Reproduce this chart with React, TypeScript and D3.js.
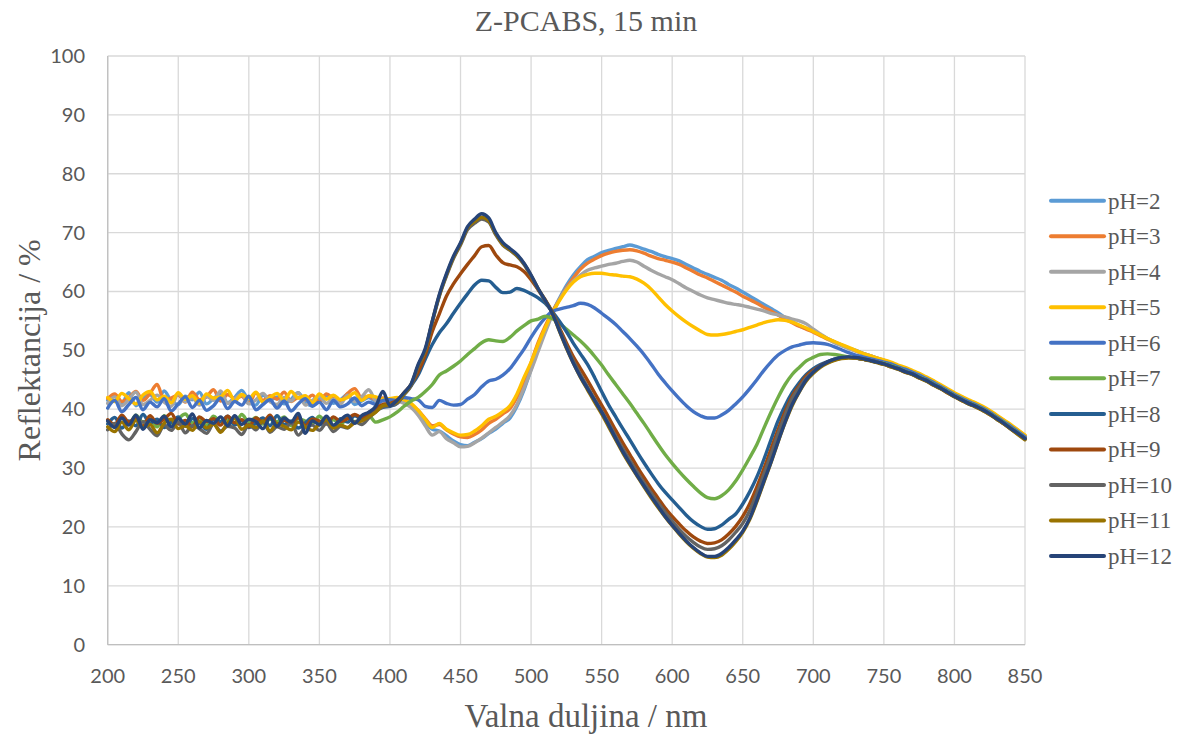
import React from 'react';
import * as d3 from 'd3';

// wavelength grid: 200..850 nm, 5 nm step
const WL_START = 200;
const WL_STEP = 5;

const X_TICKS = [200, 250, 300, 350, 400, 450, 500, 550, 600, 650, 700, 750, 800, 850];
const Y_TICKS = [0, 10, 20, 30, 40, 50, 60, 70, 80, 90, 100];

const SERIES_NAMES = ['pH=2', 'pH=3', 'pH=4', 'pH=5', 'pH=6', 'pH=7', 'pH=8', 'pH=9', 'pH=10', 'pH=11', 'pH=12'];
const SERIES_COLORS = ['#5B9BD5', '#ED7D31', '#A5A5A5', '#FFC000', '#4472C4', '#70AD47', '#255E91', '#9E480E', '#636363', '#997300', '#264478'];

const PH2 = [
  41.5, 42.3, 41.0, 42.8, 40.6, 41.9, 42.5, 41.2, 43.1, 41.4,
  40.8, 42.2, 41.6, 42.9, 40.9, 41.8, 42.6, 41.1, 42.0, 43.2,
  41.3, 40.7, 42.4, 41.5, 42.1, 40.9, 41.7, 42.8, 41.2, 40.6,
  41.9, 42.3, 41.0, 41.6, 42.5, 40.8, 41.4, 42.0, 41.3, 41.6,
  41.5, 41.8, 41.5, 40.5, 39.2, 37.6, 36.6, 36.3, 35.5, 34.6,
  34.0, 33.8, 34.4, 35.0, 35.9, 36.6, 37.6, 38.5, 40.5, 43.3,
  46.8, 50.5, 53.6, 56.4, 58.8, 61.0, 62.8, 64.2, 65.4, 66.0,
  66.6, 67.0, 67.3, 67.6, 67.9, 67.6, 67.2, 66.8, 66.3, 65.9,
  65.6, 65.2, 64.6, 64.0, 63.4, 62.9, 62.4, 61.9, 61.2, 60.6,
  59.9, 59.2, 58.5, 57.8, 57.1, 56.4, 55.6, 54.9, 54.2, 53.7,
  53.2, 52.6, 52.0, 51.4, 50.9, 50.4, 50.0, 49.5, 49.1, 48.7,
  48.3, 47.8, 47.4, 46.9, 46.4, 45.9, 45.3, 44.7, 44.0, 43.3,
  42.6, 42.0, 41.4, 40.9, 40.3, 39.6, 38.8, 38.0, 37.2, 36.3,
  35.4,
];
const PH3 = [
  41.8, 42.6, 41.3, 42.0, 43.0, 41.5, 42.7, 44.2, 41.5, 41.9,
  42.4, 41.2, 42.9, 41.6, 42.1, 43.3, 41.4, 42.5, 41.8, 42.2,
  41.0, 42.8, 41.5, 42.3, 41.7, 42.9, 41.3, 42.0, 41.6, 42.4,
  41.2, 42.6, 41.8, 41.4, 42.7, 43.5, 41.9, 42.2, 41.6, 41.9,
  41.6, 41.9, 41.7, 40.8, 39.8, 38.4, 37.2, 37.4, 36.5, 35.8,
  35.3, 35.2, 35.7, 36.5, 37.6, 38.3, 39.2, 40.1, 42.0, 44.4,
  47.9, 51.3, 54.1, 56.5, 58.6, 60.6, 62.3, 63.8, 64.8, 65.5,
  66.1, 66.5, 66.8, 67.0, 67.1, 66.9, 66.5, 66.0, 65.6, 65.3,
  65.0, 64.6, 64.0, 63.4, 62.8, 62.3, 61.7, 61.1, 60.5, 59.9,
  59.2, 58.6, 58.0, 57.3, 56.7, 56.0, 55.3, 54.7, 54.1, 53.6,
  53.1, 52.5, 51.9, 51.4, 50.9, 50.4, 49.9, 49.5, 49.1, 48.7,
  48.3, 47.9, 47.3, 47.0, 46.4, 46.0, 45.3, 44.8, 44.0, 43.4,
  42.6, 42.1, 41.4, 41.0, 40.3, 39.7, 38.8, 38.1, 37.2, 36.4,
  35.5,
];
const PH4 = [
  41.0, 42.1, 40.6, 41.7, 42.9, 40.8, 41.5, 42.4, 41.2, 40.5,
  42.6, 41.3, 41.9, 40.7, 42.2, 41.5, 43.1, 41.0, 41.8, 42.5,
  40.9, 41.6, 42.7, 41.3, 40.8, 42.0, 41.4, 42.8, 40.7, 41.5,
  42.2, 41.0, 41.7, 40.9, 42.4, 41.3, 42.1, 43.3, 41.4, 41.2,
  41.0, 41.4, 41.0, 40.3, 39.0, 37.2, 35.6, 36.2, 35.0, 34.3,
  33.6, 33.7, 34.3, 35.1, 36.0, 36.9, 37.8, 38.9, 40.8, 43.6,
  46.6, 49.8, 53.0, 56.0, 58.6, 60.4, 61.8, 62.8, 63.6, 64.0,
  64.3, 64.6, 64.8, 65.1, 65.3, 65.0, 64.3, 63.6, 63.0, 62.5,
  62.0, 61.3, 60.6, 60.0, 59.4, 58.9, 58.6, 58.3, 58.0, 57.8,
  57.6, 57.3, 57.0, 56.7, 56.3, 56.0, 55.7, 55.3, 55.0, 54.5,
  53.6, 52.8, 52.0, 51.3, 50.8, 50.3, 49.9, 49.5, 49.1, 48.7,
  48.2, 47.8, 47.2, 46.9, 46.3, 45.9, 45.2, 44.7, 43.9, 43.3,
  42.5, 42.0, 41.3, 40.9, 40.2, 39.6, 38.7, 38.0, 37.1, 36.3,
  35.3,
];
const PH5 = [
  42.0, 41.3, 42.7, 41.8, 40.9, 42.4, 43.0, 41.6, 42.2, 41.1,
  42.8, 41.7, 42.3, 41.0, 42.6, 41.9, 42.1, 43.2, 41.4, 42.5,
  41.8, 42.9, 41.2, 42.0, 42.7, 41.5, 43.0, 41.9, 42.3, 41.1,
  42.6, 41.7, 42.4, 41.6, 42.0, 42.8, 41.5, 42.3, 42.1, 41.7,
  41.8, 42.0, 41.6, 41.0, 39.8, 38.3, 36.9, 37.6, 36.6, 36.0,
  35.6, 35.7, 36.3, 37.2, 38.3, 38.8, 39.6, 40.6, 42.6, 45.4,
  48.0, 51.0, 53.8, 56.3, 58.4, 60.2, 61.6, 62.5, 62.9, 63.1,
  63.1, 62.9, 62.8, 62.6, 62.5, 62.1, 61.4, 60.4, 59.1, 57.8,
  56.7, 55.7, 54.8, 54.0, 53.3, 52.7, 52.6, 52.7, 52.9, 53.2,
  53.5, 53.9, 54.3, 54.7, 55.0, 55.2, 55.1, 54.8, 54.3, 53.8,
  53.2, 52.6, 52.0, 51.5, 51.0, 50.5, 50.0, 49.5, 49.1, 48.7,
  48.4, 48.0, 47.5, 47.1, 46.6, 46.1, 45.5, 44.9, 44.2, 43.5,
  42.8, 42.2, 41.6, 41.1, 40.5, 39.8, 39.0, 38.2, 37.4, 36.5,
  35.6,
];
const PH6 = [
  40.2, 41.5, 39.6, 40.8, 42.0, 39.9, 41.2, 40.4, 41.8, 39.7,
  40.9, 42.1, 40.3, 41.5, 39.8, 40.6, 41.9, 40.1, 41.3, 40.7,
  42.2, 39.9, 40.8, 41.6, 40.2, 41.4, 39.7, 40.9, 41.8, 40.5,
  41.2, 39.9, 41.5, 40.4, 40.9, 41.9, 40.6, 41.2, 40.8, 41.5,
  41.6, 41.5, 42.0, 41.8, 41.6, 40.5, 40.3, 41.5, 41.0, 40.7,
  40.8, 41.7, 42.5, 43.8, 44.8, 45.1, 45.8, 46.9, 48.5, 50.2,
  52.2, 54.0, 55.5, 56.6, 57.0, 57.3, 57.6, 58.0, 57.8, 57.2,
  56.3, 55.4, 54.4, 53.2, 52.0, 50.7, 49.3, 47.7, 46.0, 44.5,
  43.1, 41.8, 40.6, 39.6, 38.9, 38.5, 38.5, 39.0, 39.8, 40.9,
  42.1, 43.5, 45.0, 46.6, 48.0, 49.2, 50.0, 50.6, 50.9, 51.2,
  51.3, 51.2, 51.0, 50.6, 50.1, 49.6, 49.2, 48.9, 48.6, 48.3,
  48.0, 47.7, 47.2, 46.8, 46.3, 45.8, 45.2, 44.6, 43.9, 43.2,
  42.5, 41.9, 41.3, 40.8, 40.2, 39.5, 38.7, 37.9, 37.1, 36.2,
  35.3,
];
const PH7 = [
  38.0, 37.2, 38.6, 37.5, 39.0, 37.8, 38.3, 37.0, 38.9, 37.6,
  38.4, 39.2, 37.7, 38.5, 37.3, 38.8, 37.9, 38.2, 37.4, 39.1,
  37.8, 38.6, 37.5, 38.3, 37.9, 38.7, 37.2, 38.4, 38.0, 37.6,
  38.8, 37.7, 38.2, 37.4, 38.6, 37.9, 38.3, 38.9, 37.8, 38.2,
  38.7, 39.5, 40.5, 41.4, 42.0, 43.0, 44.2, 45.8, 46.5, 47.3,
  48.2, 49.3, 50.3, 51.3, 51.8, 51.6, 51.5, 52.2, 53.3, 54.2,
  55.0, 55.3, 55.8, 55.4, 54.6, 53.6, 52.6, 51.6, 50.4, 49.0,
  47.5, 45.8, 44.2, 42.6, 41.0, 39.3, 37.6, 35.8, 34.0, 32.3,
  30.8, 29.4, 28.1, 26.9, 25.8, 25.0, 24.8, 25.3, 26.3, 27.8,
  29.7, 31.8, 34.0, 36.8, 39.5, 42.0, 44.2, 45.9, 47.1, 48.2,
  48.8, 49.3, 49.4, 49.3, 49.1, 48.9, 48.7, 48.5, 48.3, 48.0,
  47.8, 47.4, 47.0, 46.5, 46.0, 45.5, 45.0, 44.3, 43.7, 43.0,
  42.3, 41.7, 41.1, 40.6, 40.0, 39.3, 38.5, 37.7, 36.8, 36.0,
  35.0,
];
const PH8 = [
  37.5, 38.6, 36.8, 38.0, 37.2, 39.1, 37.6, 38.3, 36.9, 37.8,
  38.7, 37.1, 38.4, 37.7, 36.6, 38.2, 37.9, 38.8, 37.3, 38.1,
  36.9, 37.6, 38.5, 37.2, 38.9, 37.4, 38.0, 36.8, 37.7, 38.6,
  37.3, 38.2, 37.0, 38.4, 37.8, 38.9, 38.3, 39.2, 39.8, 40.3,
  40.5, 41.0, 42.5, 44.0, 45.8, 48.5, 51.0, 53.0, 54.5, 56.3,
  58.0, 59.6, 61.1, 61.9, 61.8, 60.7, 59.8, 59.9, 60.5, 60.2,
  59.6, 58.9, 58.0, 56.6, 55.0, 53.2, 51.2, 49.4, 47.6, 45.4,
  43.0, 40.7, 38.7, 36.7, 34.8, 32.8, 30.9, 29.1, 27.4, 25.9,
  24.6, 23.3, 22.0, 20.9, 20.1, 19.6, 19.7, 20.3, 21.3, 22.2,
  23.9, 26.0, 28.5, 31.5, 34.8, 38.0, 40.6, 42.8, 44.5, 45.9,
  46.9, 47.6, 48.1, 48.5, 48.7, 48.8, 48.7, 48.5, 48.3, 48.0,
  47.7, 47.3, 46.9, 46.4, 46.0, 45.4, 44.9, 44.2, 43.6, 42.9,
  42.2, 41.6, 41.0, 40.5, 39.9, 39.2, 38.4, 37.6, 36.7, 35.9,
  35.0,
];
const PH9 = [
  38.2, 37.4, 39.0, 37.8, 38.6, 37.1, 38.9, 37.6, 38.3, 39.3,
  37.5, 38.1, 37.0, 38.7, 37.9, 38.4, 37.3, 38.8, 37.7, 38.2,
  37.0, 38.5, 37.8, 39.0, 37.4, 38.1, 37.6, 38.6, 37.2, 38.3,
  38.0, 37.5, 38.7, 37.9, 38.4, 39.1, 38.6, 39.4, 40.2, 40.8,
  41.0, 41.5, 42.8, 44.2, 46.3, 49.2, 53.2, 56.2, 59.2, 61.3,
  63.0, 64.6, 66.1, 67.6, 67.8, 66.2, 64.9, 64.5, 64.2, 63.4,
  62.0, 60.3, 58.6, 56.5, 53.9, 51.3, 48.9, 46.9, 44.9, 42.8,
  40.7, 38.6, 36.4, 34.3, 32.3, 30.3, 28.4, 26.6, 24.9, 23.2,
  21.8, 20.5, 19.3, 18.3, 17.6, 17.2, 17.3, 17.8, 18.8, 20.1,
  21.8, 24.0, 26.8, 29.9, 33.2, 36.5, 39.6, 42.2, 44.0, 45.6,
  46.6, 47.4, 48.0, 48.4, 48.7, 48.8, 48.7, 48.5, 48.3, 48.0,
  47.7, 47.2, 46.9, 46.3, 46.0, 45.3, 44.9, 44.1, 43.6, 42.8,
  42.2, 41.5, 41.0, 40.4, 39.9, 39.1, 38.4, 37.5, 36.7, 35.8,
  35.0,
];
const PH10 = [
  36.5, 37.6, 35.8, 34.8, 36.2, 37.9, 36.6, 35.5, 37.3, 36.4,
  37.8, 36.0, 37.2, 36.7, 35.9, 37.5, 36.3, 37.1, 36.8, 35.7,
  37.4, 36.5, 37.9, 36.1, 37.0, 36.6, 37.7, 35.6, 36.9, 37.3,
  36.4, 37.6, 36.2, 37.1, 36.8, 37.9, 37.4, 38.5, 39.6, 40.4,
  40.6, 41.0, 42.5, 44.0, 47.3, 50.0, 54.8, 59.2, 62.6, 65.6,
  67.9, 70.5, 71.6, 72.3, 71.8, 69.6, 67.9, 67.0, 66.0, 64.6,
  62.6, 60.4, 58.4, 56.4, 53.6, 50.8, 48.2, 45.9, 43.8, 41.7,
  39.7, 37.6, 35.4, 33.3, 31.3, 29.4, 27.5, 25.8, 24.1, 22.5,
  21.0, 19.6, 18.4, 17.4, 16.6, 16.2, 16.3, 16.8, 17.8, 19.1,
  20.6, 22.8, 25.7, 29.0, 32.3, 35.8, 39.0, 41.8, 43.7, 45.3,
  46.4, 47.3, 47.9, 48.4, 48.7, 48.8, 48.7, 48.5, 48.3, 48.0,
  47.6, 47.3, 46.8, 46.4, 45.9, 45.4, 44.8, 44.2, 43.5, 42.9,
  42.1, 41.6, 40.9, 40.5, 39.8, 39.2, 38.3, 37.6, 36.6, 35.8,
  34.9,
];
const PH11 = [
  37.0, 36.2, 37.8, 36.5, 38.1, 36.9, 37.4, 36.0, 37.6, 38.3,
  36.7, 37.2, 36.4, 37.9, 36.8, 37.5, 36.1, 37.7, 38.4, 36.6,
  37.3, 36.9, 38.0, 36.3, 37.6, 37.1, 36.5, 37.8, 37.0, 36.4,
  37.5, 38.2, 36.8, 37.3, 36.9, 37.7, 38.0, 38.7, 39.5, 40.6,
  40.8, 41.2, 42.6, 44.2, 47.4, 50.0, 54.9, 59.3, 62.8, 65.8,
  68.1, 70.8, 71.9, 72.6, 72.0, 69.8, 68.0, 67.1, 66.1, 64.7,
  62.7, 60.5, 58.5, 56.4, 53.3, 50.4, 47.8, 45.4, 43.3, 41.2,
  39.2, 37.0, 34.8, 32.6, 30.6, 28.7, 26.8, 25.0, 23.3, 21.7,
  20.2, 18.8, 17.5, 16.4, 15.5, 14.9, 14.8, 15.2, 16.2, 17.5,
  19.1, 21.3, 24.3, 27.6, 30.9, 34.4, 37.7, 40.6, 42.9, 44.8,
  46.1, 47.1, 47.8, 48.3, 48.6, 48.7, 48.7, 48.5, 48.2, 47.9,
  47.6, 47.2, 46.8, 46.3, 45.9, 45.3, 44.8, 44.1, 43.5, 42.8,
  42.1, 41.5, 40.9, 40.4, 39.8, 39.1, 38.3, 37.5, 36.6, 35.7,
  34.8,
];
const PH12 = [
  38.0, 36.9, 38.5, 37.3, 39.0, 36.6, 38.2, 37.7, 38.8, 37.0,
  38.4, 37.5, 39.2, 36.8, 38.1, 37.6, 38.7, 37.2, 38.9, 37.4,
  38.3, 37.9, 36.7, 38.6, 37.1, 38.5, 37.8, 39.3, 35.9, 38.0,
  37.4, 38.8, 37.3, 38.2, 39.0, 37.6, 38.9, 39.5, 40.5, 43.0,
  40.6, 41.5, 42.8, 44.3, 47.6, 50.3, 55.0, 59.5, 63.0, 66.0,
  68.3, 71.0, 72.3, 73.2, 72.5, 70.0, 68.3, 67.3, 66.3, 64.8,
  62.8, 60.5, 58.5, 56.3, 53.4, 50.5, 47.8, 45.5, 43.5, 41.5,
  39.5, 37.3, 35.0, 32.8, 30.8, 28.8, 27.0, 25.2, 23.5, 21.8,
  20.3, 18.9, 17.6, 16.5, 15.6, 15.0, 15.0, 15.5, 16.5, 17.8,
  19.3, 21.5, 24.5, 27.8, 31.0, 34.5, 37.8, 40.8, 43.0, 45.0,
  46.3, 47.3, 48.0, 48.5, 48.8, 48.9, 48.8, 48.6, 48.3, 48.0,
  47.7, 47.3, 46.9, 46.4, 46.0, 45.4, 44.9, 44.2, 43.6, 42.9,
  42.2, 41.6, 41.0, 40.5, 39.9, 39.2, 38.4, 37.6, 36.7, 35.9,
  35.0,
];

const SERIES_VALUES = [PH2, PH3, PH4, PH5, PH6, PH7, PH8, PH9, PH10, PH11, PH12];

const W = 1186;
const H = 738;
const M = { left: 107.7, right: 1025, top: 56, bottom: 644.7 };

const TICK_FONT = 'Lato, "Open Sans", sans-serif';
const SERIF = '"Liberation Serif", "Times New Roman", serif';
const TEXT = '#595959';

export default function App() {
  const x = d3.scaleLinear().domain([200, 850]).range([M.left, M.right]);
  const y = d3.scaleLinear().domain([0, 100]).range([M.bottom, M.top]);

  const line = d3
    .line<number>()
    .x((_, i) => x(WL_START + WL_STEP * i))
    .y((d) => y(d))
    .curve(d3.curveMonotoneX);

  const legendY = d3.scalePoint<string>().domain(SERIES_NAMES).range([200.7, 556]);

  return (
    <svg
      width={W}
      height={H}
      style={{ position: 'absolute', left: 0, top: 0, display: 'block', background: '#fff' }}
    >
      <rect x={0} y={0} width={W} height={H} fill="#fff" />
      {/* grid */}
      {Y_TICKS.map((t) => (
        <line key={'gy' + t} x1={M.left} x2={M.right} y1={y(t)} y2={y(t)} stroke="#d9d9d9" strokeWidth={1.3} />
      ))}
      {X_TICKS.map((t) => (
        <line key={'gx' + t} x1={x(t)} x2={x(t)} y1={M.top} y2={M.bottom} stroke="#d9d9d9" strokeWidth={1.3} />
      ))}
      {/* axes */}
      <line x1={M.left} x2={M.left} y1={M.top} y2={M.bottom} stroke="#bfbfbf" strokeWidth={1.3} />
      <line x1={M.left} x2={M.right} y1={M.bottom} y2={M.bottom} stroke="#bfbfbf" strokeWidth={1.3} />

      {/* tick labels */}
      {Y_TICKS.map((t) => (
        <text key={'ty' + t} x={85} y={y(t) + 7} textAnchor="end" fontFamily={TICK_FONT} fontSize={20} fill={TEXT}>
          {t}
        </text>
      ))}
      {X_TICKS.map((t) => (
        <text key={'tx' + t} x={x(t)} y={683} textAnchor="middle" fontFamily={TICK_FONT} fontSize={20} fill={TEXT}>
          {t}
        </text>
      ))}

      {/* series */}
      <g clipPath="url(#plotclip)">
        {SERIES_VALUES.map((vals, i) => (
          <path
            key={SERIES_NAMES[i]}
            d={line(vals) || ''}
            fill="none"
            stroke={SERIES_COLORS[i]}
            strokeWidth={3.4}
            strokeLinejoin="round"
            strokeLinecap="round"
          />
        ))}
      </g>
      <defs>
        <clipPath id="plotclip">
          <rect x={M.left - 2} y={M.top - 4} width={M.right - M.left + 4} height={M.bottom - M.top + 4} />
        </clipPath>
      </defs>

      {/* title */}
      <text x={586} y={31} textAnchor="middle" fontFamily={SERIF} fontSize={30} fill={TEXT}>
        Z-PCABS, 15 min
      </text>
      {/* axis titles */}
      <text x={586} y={727} textAnchor="middle" fontFamily={SERIF} fontSize={33} fill={TEXT}>
        Valna duljina / nm
      </text>
      <text
        transform={`translate(40, ${(M.top + M.bottom) / 2}) rotate(-90)`}
        textAnchor="middle"
        fontFamily={SERIF}
        fontSize={32}
        fill={TEXT}
      >
        Reflektancija / %
      </text>

      {/* legend */}
      {SERIES_NAMES.map((n, i) => {
        const ly = legendY(n) as number;
        return (
          <g key={'lg' + n}>
            <line x1={1051} x2={1104} y1={ly} y2={ly} stroke={SERIES_COLORS[i]} strokeWidth={4} strokeLinecap="round" />
            <text x={1108} y={ly + 8} fontFamily={SERIF} fontSize={23} fill={TEXT}>
              {n}
            </text>
          </g>
        );
      })}
    </svg>
  );
}
